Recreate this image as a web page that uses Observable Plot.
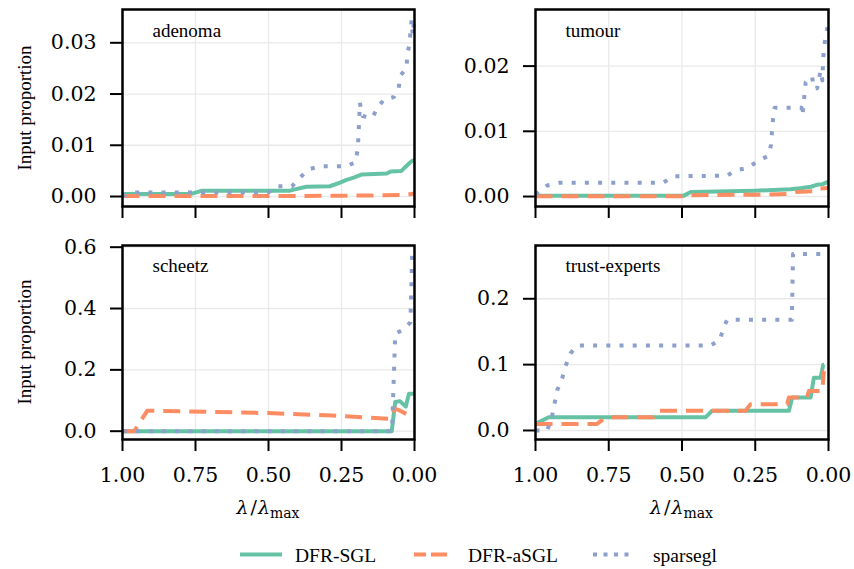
<!DOCTYPE html>
<html><head><meta charset="utf-8">
<script src="https://cdn.jsdelivr.net/npm/d3@7"></script>
<script src="https://cdn.jsdelivr.net/npm/@observablehq/plot@0.6"></script>
<style>
body{margin:0;background:#fff;}
#chart{position:relative;width:854px;height:569px;background:#fff;overflow:hidden;}
#chart > svg{position:absolute;}
</style></head><body><div id="chart"></div>
<script>
// ---- data ----
const methods = ["DFR-SGL", "DFR-aSGL", "sparsegl"];
const colors = ["#66c2a5", "#fc8d62", "#8da0cb"];
const lambdaTicks = [1, 0.75, 0.5, 0.25, 0];

// [lambda / lambda_max, input proportion]
const adenomaSGL = [[1,0.0005],[0.765,0.0005],[0.73,0.0011],[0.43,0.0011],[0.41,0.0014],[0.37,0.0019],[0.29,0.0020],[0.255,0.0027],[0.235,0.0032],[0.208,0.0037],[0.18,0.0043],[0.095,0.0045],[0.082,0.0049],[0.045,0.0050],[0.025,0.0061],[0.012,0.0068],[0,0.0072]];
const adenomaASGL = [[1,0.0001],[0.4,0.0001],[0.15,0.0002],[0.03,0.0003],[0.01,0.0005],[0,0.0006]];
const adenomaSparse = [[1,0.0001],[0.96,0.0008],[0.5,0.0008],[0.47,0.0020],[0.42,0.0020],[0.39,0.0038],[0.363,0.0053],[0.325,0.0059],[0.233,0.0059],[0.202,0.0067],[0.194,0.0094],[0.19,0.0142],[0.187,0.0183],[0.182,0.0166],[0.177,0.0157],[0.145,0.0153],[0.128,0.0172],[0.105,0.0189],[0.071,0.0194],[0.054,0.0212],[0.048,0.0236],[0.027,0.0251],[0.025,0.0277],[0.017,0.0298],[0.014,0.0320],[0.01,0.0344],[0.006,0.0315],[0.003,0.0335],[0,0.0345]];

const tumourSGL = [[1,0.0001],[0.495,0.0001],[0.47,0.0007],[0.25,0.0009],[0.13,0.0011],[0.09,0.0013],[0.06,0.0015],[0.04,0.0018],[0.02,0.0019],[0.01,0.0021],[0,0.0023]];
const tumourASGL = [[1,0.00005],[0.5,0.00005],[0.47,0.0002],[0.2,0.0003],[0.14,0.0004],[0.11,0.0007],[0.05,0.0008],[0.035,0.0012],[0,0.0013]];
const tumourSparse = [[1,0.0003],[0.96,0.0017],[0.92,0.0021],[0.565,0.0021],[0.53,0.0031],[0.346,0.0032],[0.317,0.0040],[0.275,0.0044],[0.243,0.0054],[0.207,0.0062],[0.196,0.0079],[0.193,0.0099],[0.189,0.0119],[0.184,0.0136],[0.092,0.0136],[0.089,0.0124],[0.082,0.0156],[0.078,0.0175],[0.056,0.0184],[0.05,0.0165],[0.039,0.0166],[0.027,0.0193],[0.021,0.0178],[0.018,0.0213],[0.013,0.0236],[0.008,0.0251],[0.004,0.0258],[0,0.0270]];

const scheetzSGL = [[1,0],[0.078,0],[0.066,0.095],[0.05,0.098],[0.03,0.08],[0.019,0.122],[0,0.122]];
const scheetzASGL = [[1,0],[0.96,0],[0.915,0.067],[0.8,0.065],[0.5,0.059],[0.28,0.051],[0.085,0.040],[0.068,0.074],[0.05,0.067],[0.025,0.055]];
const scheetzSparse = [[1,0],[0.077,0],[0.066,0.318],[0.037,0.332],[0.014,0.355],[0.008,0.577],[0,0.577]];

const trustSGL = [[1,0.01],[0.955,0.02],[0.42,0.02],[0.397,0.03],[0.135,0.03],[0.124,0.05],[0.061,0.05],[0.05,0.08],[0.027,0.08],[0.018,0.10],[0.015,0.10]];
const trustASGL = [[1,0.01],[0.79,0.01],[0.761,0.02],[0.596,0.02],[0.579,0.03],[0.283,0.03],[0.266,0.04],[0.141,0.04],[0.135,0.05],[0.073,0.05],[0.067,0.06],[0.021,0.06],[0.016,0.09],[0.015,0.09]];
const trustSparse = [[1,0],[0.96,0],[0.943,0.023],[0.926,0.061],[0.909,0.079],[0.898,0.097],[0.881,0.117],[0.858,0.129],[0.403,0.129],[0.371,0.137],[0.359,0.155],[0.346,0.168],[0.125,0.168],[0.121,0.268],[0.015,0.268]];

const adenomaYTicks = [0, 0.01, 0.02, 0.03];
const tumourYTicks = [0, 0.01, 0.02];
const scheetzYTicks = [0, 0.2, 0.4, 0.6];
const trustYTicks = [0, 0.1, 0.2];

// ---- drawing ----
const chart = document.getElementById("chart");
const dashes = [undefined, "17,9", "4,9.2"];

function panel(cfg) {
  const series = [cfg.sgl, cfg.asgl, cfg.sparse];
  const p = Plot.plot({
    width: cfg.width, height: cfg.height,
    marginLeft: cfg.ml, marginRight: cfg.mr, marginTop: cfg.mt, marginBottom: cfg.mb,
    style: {fontFamily: "'DejaVu Serif', serif", fontSize: "20.5px", background: "transparent", overflow: "visible", color: "black"},
    x: {domain: [1, 0]},
    y: {domain: cfg.yDomain},
    marks: [
      Plot.gridX(lambdaTicks, {stroke: "#e9e9e9", strokeOpacity: 1, strokeWidth: 1.3}),
      Plot.gridY(cfg.yTicks, {stroke: "#e9e9e9", strokeOpacity: 1, strokeWidth: 1.3}),
      ...series.map((s, i) => Plot.line(s, {
        x: d => d[0], y: d => d[1], stroke: colors[i], strokeWidth: 4,
        strokeDasharray: dashes[i], strokeLinecap: "butt", strokeLinejoin: "round"
      })),
      Plot.frame({stroke: "black", strokeWidth: 2.5}),
      Plot.axisX(lambdaTicks, {tickSize: 12, tickPadding: 16, strokeWidth: 2, label: null,
        tickFormat: cfg.showX ? d3.format(".2f") : () => ""}),
      Plot.axisY(cfg.yTicks, {tickSize: 12, tickPadding: 14, strokeWidth: 2, label: null,
        tickFormat: d3.format(cfg.yFmt)}),
      Plot.text([cfg.name], {frameAnchor: "top-left", dx: 30, dy: cfg.titleDy, textAnchor: "start",
        lineAnchor: "bottom", fontFamily: "Liberation Serif", fontSize: 19, fill: "black"})
    ]
  });
  p.style.left = cfg.left + "px";
  p.style.top = cfg.top + "px";
  chart.appendChild(p);
}

panel({name: "adenoma", sgl: adenomaSGL, asgl: adenomaASGL, sparse: adenomaSparse,
  yDomain: [-0.00195, 0.0365], yTicks: adenomaYTicks, yFmt: ".2f", showX: false,
  left: 0, top: 0, width: 427, height: 230, ml: 122, mr: 13, mt: 9, mb: 24, titleDy: 27.5});
panel({name: "tumour", sgl: tumourSGL, asgl: tumourASGL, sparse: tumourSparse,
  yDomain: [-0.00153, 0.02868], yTicks: tumourYTicks, yFmt: ".2f", showX: false,
  left: 427, top: 0, width: 427, height: 230, ml: 108, mr: 26, mt: 9, mb: 24, titleDy: 27.5});
panel({name: "scheetz", sgl: scheetzSGL, asgl: scheetzASGL, sparse: scheetzSparse,
  yDomain: [-0.0271, 0.6055], yTicks: scheetzYTicks, yFmt: ".1f", showX: true,
  left: 0, top: 230, width: 427, height: 300, ml: 122, mr: 13, mt: 15, mb: 91, titleDy: 26});
panel({name: "trust-experts", sgl: trustSGL, asgl: trustASGL, sparse: trustSparse,
  yDomain: [-0.0137, 0.2809], yTicks: trustYTicks, yFmt: ".1f", showX: true,
  left: 427, top: 230, width: 427, height: 300, ml: 108, mr: 26, mt: 15, mb: 91, titleDy: 26});

// ---- overlay: axis titles + legend ----
const ov = d3.select(chart).append("svg")
  .attr("width", 854).attr("height", 569)
  .style("left", "0px").style("top", "0px");

[108, 342].forEach(cy => {
  ov.append("text")
    .attr("transform", `translate(24,${cy}) rotate(-90)`)
    .attr("text-anchor", "middle").attr("dominant-baseline", "central")
    .attr("font-family", "Liberation Serif").attr("font-size", 19)
    .text("Input proportion");
});

[268, 681.5].forEach(cx => {
  const t = ov.append("text").attr("x", cx).attr("y", 514)
    .attr("text-anchor", "middle").attr("font-family", "DejaVu Serif").attr("font-size", 19);
  t.append("tspan").attr("font-style", "italic").text("λ");
  t.append("tspan").attr("dx", 2).text("/");
  t.append("tspan").attr("dx", 1).attr("font-style", "italic").text("λ");
  t.append("tspan").attr("font-size", 14).attr("dy", 4).text("max");
});

const legendItems = [
  {x0: 240, x1: 282, tx: 295},
  {x0: 414, x1: 447, tx: 468},
  {x0: 593, x1: 630, tx: 653}
];
const legendDash = [null, "12,5,16,100", "4,6.5"];
legendItems.forEach((it, i) => {
  ov.append("line").attr("x1", it.x0).attr("x2", it.x1).attr("y1", 554.5).attr("y2", 554.5)
    .attr("stroke", colors[i]).attr("stroke-width", 4)
    .attr("stroke-dasharray", legendDash[i]);
  ov.append("text").attr("x", it.tx).attr("y", 561.5)
    .attr("font-family", "Liberation Serif").attr("font-size", 19.5)
    .text(methods[i]);
});
</script></body></html>
